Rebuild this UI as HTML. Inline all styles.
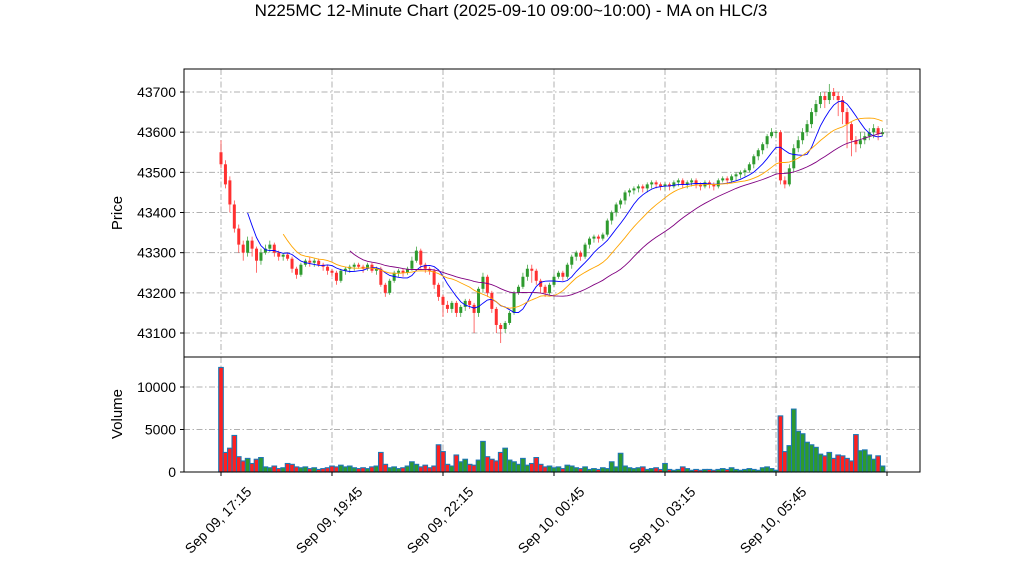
<!DOCTYPE html>
<html><head><meta charset="utf-8"><style>
body{margin:0;background:#fff;}
svg{display:block;font-family:"Liberation Sans","DejaVu Sans",sans-serif;}
</style></head><body>
<svg id="chart" width="1022" height="575" viewBox="0 0 1022 575">
<rect width="1022" height="575" fill="#fff"/>
<text x="511" y="16" text-anchor="middle" font-size="17">N225MC 12-Minute Chart (2025-09-10 09:00~10:00) - MA on HLC/3</text>
<g id="grid"></g>
<g id="vol"></g>
<g id="candles"></g>
<g id="mas"></g>
<g id="axes"></g>
</svg>
<script>
const opens=[43550,43520,43480,43420,43360,43320,43300,43330,43310,43280,
43300,43310,43320,43300,43290,43295,43285,43260,43245,43270,
43280,43275,43280,43270,43265,43255,43250,43230,43255,43260,
43265,43270,43265,43260,43270,43255,43260,43220,43200,43230,
43250,43255,43250,43260,43280,43305,43270,43260,43255,43220,
43190,43170,43160,43175,43150,43165,43180,43170,43150,43210,
43240,43200,43160,43120,43110,43125,43150,43200,43215,43240,
43260,43255,43230,43215,43200,43220,43240,43250,43240,43270,
43290,43300,43290,43320,43335,43340,43335,43345,43380,43400,
43420,43430,43450,43455,43460,43465,43460,43470,43475,43470,
43465,43470,43465,43475,43480,43470,43475,43480,43470,43465,
43475,43470,43465,43480,43485,43480,43490,43495,43500,43505,
43520,43540,43555,43570,43590,43600,43600,43480,43470,43510,
43560,43580,43600,43620,43650,43670,43690,43680,43700,43690,
43680,43650,43620,43580,43570,43580,43590,43600,43610,43595];
const closes=[43520,43470,43420,43360,43320,43300,43330,43310,43280,43300,
43310,43320,43300,43290,43295,43285,43260,43245,43270,43280,
43275,43280,43270,43265,43255,43250,43230,43255,43260,43265,
43270,43265,43260,43270,43255,43260,43220,43200,43230,43250,
43255,43250,43260,43280,43305,43270,43260,43255,43220,43190,
43170,43160,43175,43150,43165,43180,43170,43150,43210,43240,
43200,43160,43120,43110,43125,43150,43200,43215,43240,43260,
43255,43230,43215,43200,43220,43240,43250,43240,43270,43290,
43300,43290,43320,43335,43340,43335,43345,43380,43400,43420,
43430,43450,43455,43460,43465,43460,43470,43475,43470,43465,
43470,43465,43475,43480,43470,43475,43480,43470,43465,43475,
43470,43465,43480,43485,43480,43490,43495,43500,43505,43520,
43540,43555,43570,43590,43600,43600,43480,43470,43510,43560,
43580,43600,43620,43650,43670,43690,43680,43700,43690,43680,
43650,43620,43580,43570,43580,43590,43600,43610,43595,43600];
const highs=[43580,43530,43490,43430,43370,43330,43340,43340,43315,43310,
43320,43330,43325,43305,43300,43300,43290,43265,43275,43285,
43290,43285,43285,43275,43270,43260,43255,43260,43265,43270,
43275,43275,43270,43275,43275,43265,43265,43225,43235,43255,
43260,43260,43265,43290,43315,43310,43275,43265,43260,43225,
43195,43180,43180,43180,43170,43185,43185,43175,43215,43250,
43245,43205,43165,43125,43130,43155,43205,43220,43250,43270,
43270,43260,43235,43220,43225,43245,43255,43255,43275,43295,
43305,43305,43325,43340,43345,43345,43350,43385,43405,43425,
43435,43455,43460,43465,43470,43470,43475,43480,43480,43475,
43475,43475,43480,43485,43485,43480,43485,43485,43475,43480,
43480,43475,43485,43490,43490,43495,43500,43505,43510,43525,
43545,43560,43575,43595,43610,43605,43605,43490,43520,43570,
43590,43610,43630,43660,43680,43700,43700,43720,43710,43700,
43690,43660,43625,43590,43600,43600,43610,43620,43615,43610];
const lows=[43510,43460,43400,43350,43300,43280,43290,43290,43250,43270,
43295,43300,43290,43280,43280,43280,43250,43235,43240,43265,
43265,43265,43265,43255,43245,43240,43220,43225,43245,43250,
43255,43260,43250,43255,43250,43245,43215,43190,43195,43225,
43240,43240,43245,43255,43275,43260,43250,43245,43210,43180,
43140,43150,43150,43140,43140,43155,43160,43100,43140,43200,
43190,43150,43100,43075,43100,43120,43145,43195,43210,43230,
43225,43220,43200,43190,43195,43215,43235,43230,43235,43260,
43280,43280,43285,43310,43325,43325,43330,43340,43370,43390,
43410,43420,43440,43445,43450,43450,43450,43460,43460,43455,
43455,43455,43460,43465,43460,43460,43465,43460,43455,43460,
43460,43455,43460,43475,43470,43475,43480,43485,43490,43500,
43510,43530,43545,43560,43585,43585,43470,43460,43465,43500,
43550,43570,43590,43610,43640,43660,43660,43670,43680,43640,
43620,43560,43540,43550,43560,43570,43580,43585,43580,43590];
const volumes=[12300,2300,2800,4300,1800,1300,1600,1000,1500,1700,
600,500,700,400,500,1000,900,600,500,600,
400,500,300,400,500,700,600,800,600,700,
500,400,500,400,600,700,2300,900,500,600,
400,500,700,1200,900,600,800,500,700,3200,
2400,900,700,2000,1200,1500,900,800,1400,3600,
1800,1500,1300,2300,2800,1400,1200,900,1600,800,
1000,1700,900,600,700,500,600,400,800,700,
500,400,600,300,400,300,500,400,1200,600,
2200,700,500,400,500,600,300,400,500,300,
1000,300,200,300,600,400,200,300,200,300,
300,200,300,400,300,500,300,200,300,400,
300,200,500,600,400,200,6600,2400,3100,7400,
4800,4500,3500,3200,2900,2100,1900,2300,1600,2000,
1900,1600,1300,4400,2500,2600,2000,1500,1900,700];
const maWindows=[7,15,30];
const maColors=["blue","orange","purple"];
const xTickLabels=["Sep 09, 17:15","Sep 09, 19:45","Sep 09, 22:15","Sep 10, 00:45","Sep 10, 03:15","Sep 10, 05:45",""];
const xTickMinutes=[0,150,300,450,600,750,900];
const priceTicks=[43100,43200,43300,43400,43500,43600,43700];
const volTicks=[0,5000,10000];
const minutesPerCandle=6;

const NS="http://www.w3.org/2000/svg";
const L=184,R=920,PT=69,PB=357,VT=357,VB=472;
function xOfMin(m){return 221+m*111/150;}
function xOf(i){return xOfMin(i*minutesPerCandle);}
function yP(p){return 92+(43700-p)*241/600;}
function yV(v){return 472-v*(472-387)/10000;}
function mk(tag,attrs,parent){const e=document.createElementNS(NS,tag);for(const k in attrs)e.setAttribute(k,attrs[k]);parent.appendChild(e);return e;}
const grid=document.getElementById('grid'),vol=document.getElementById('vol'),cg=document.getElementById('candles'),mg=document.getElementById('mas'),ax=document.getElementById('axes');
const gs={stroke:"#b0b0b0","stroke-width":1,"stroke-dasharray":"6,2.5,1.5,2.5",fill:"none"};
xTickMinutes.forEach((m,k)=>{const x=xOfMin(m);
 const g1=mk('line',Object.assign({x1:x,x2:x,y1:PT,y2:PB},gs),grid);
 
 
 const g2=mk('line',Object.assign({x1:x,x2:x,y1:VT,y2:VB},gs),grid);
 
 
});
priceTicks.forEach(p=>{const y=yP(p);
 const g=mk('line',Object.assign({x1:L,x2:R,y1:y,y2:y},gs),grid);
 
 
 const t=mk('line',{x1:L-4,x2:L,y1:y,y2:y,stroke:"#000"},ax);
 
 
 const tx=mk('text',{x:L-8,y:y+5,"text-anchor":"end","font-size":14},ax);tx.textContent=p;
 
 
});
volTicks.forEach(v=>{const y=yV(v);
 if(v>0){const g=mk('line',Object.assign({x1:L,x2:R,y1:y,y2:y},gs),grid);
 
 }
 const t=mk('line',{x1:L-4,x2:L,y1:y,y2:y,stroke:"#000"},ax);
 
 
 const tx=mk('text',{x:L-8,y:y+5,"text-anchor":"end","font-size":14},ax);tx.textContent=v;
 
 
});
volumes.forEach((v,i)=>{const x=xOf(i),up=closes[i]>=opens[i];
 const r=mk('rect',{x:x-2.3,y:yV(v),width:4.6,height:Math.max(0,VB-yV(v)),fill:up?"#2e9a2e":"#ff2020",stroke:"#1f77b4","stroke-width":1.1},vol);
 
 
});
closes.forEach((c,i)=>{const o=opens[i],x=xOf(i),up=c>=o,col=up?"#2e9a2e":"#ff3030";
 const w=mk('line',{x1:x,x2:x,y1:yP(highs[i]),y2:yP(lows[i]),stroke:col,"stroke-width":0.7},cg);
 
 
 const top=yP(Math.max(o,c)),bot=yP(Math.min(o,c));
 const b=mk('rect',{x:x-1.5,y:top,width:3,height:Math.max(0.8,bot-top),fill:col},cg);
 
 
});
const hlc=closes.map((c,i)=>(highs[i]+lows[i]+c)/3);
maWindows.forEach((w,k)=>{let pts=[];
 for(let i=w-1;i<hlc.length;i++){let s=0;for(let j=i-w+1;j<=i;j++)s+=hlc[j];pts.push(xOf(i).toFixed(1)+','+yP(s/w).toFixed(1));}
 const p=mk('polyline',{points:pts.join(' '),fill:"none",stroke:maColors[k],"stroke-width":0.9},mg);
 
 
});
const f1=mk('rect',{x:L,y:PT,width:R-L,height:PB-PT,fill:"none",stroke:"#000","stroke-width":1},ax);


const f2=mk('rect',{x:L,y:VT,width:R-L,height:VB-VT,fill:"none",stroke:"#000","stroke-width":1},ax);


xTickMinutes.forEach((m,k)=>{const x=xOfMin(m);
 const t=mk('line',{x1:x,x2:x,y1:VB,y2:VB+4,stroke:"#000"},ax);
 
 
 if(xTickLabels[k]){const tx=mk('text',{x:x-3,y:525,"text-anchor":"middle","font-size":14,transform:`rotate(-45 ${x-3} 520)`},ax);tx.textContent=xTickLabels[k];
 
 }
});
const yl1=mk('text',{x:122,y:213,"text-anchor":"middle","font-size":15,transform:"rotate(-90 122 213)"},ax);yl1.textContent="Price";


const yl2=mk('text',{x:122,y:414,"text-anchor":"middle","font-size":15,transform:"rotate(-90 122 414)"},ax);yl2.textContent="Volume";


</script>
</body></html>
